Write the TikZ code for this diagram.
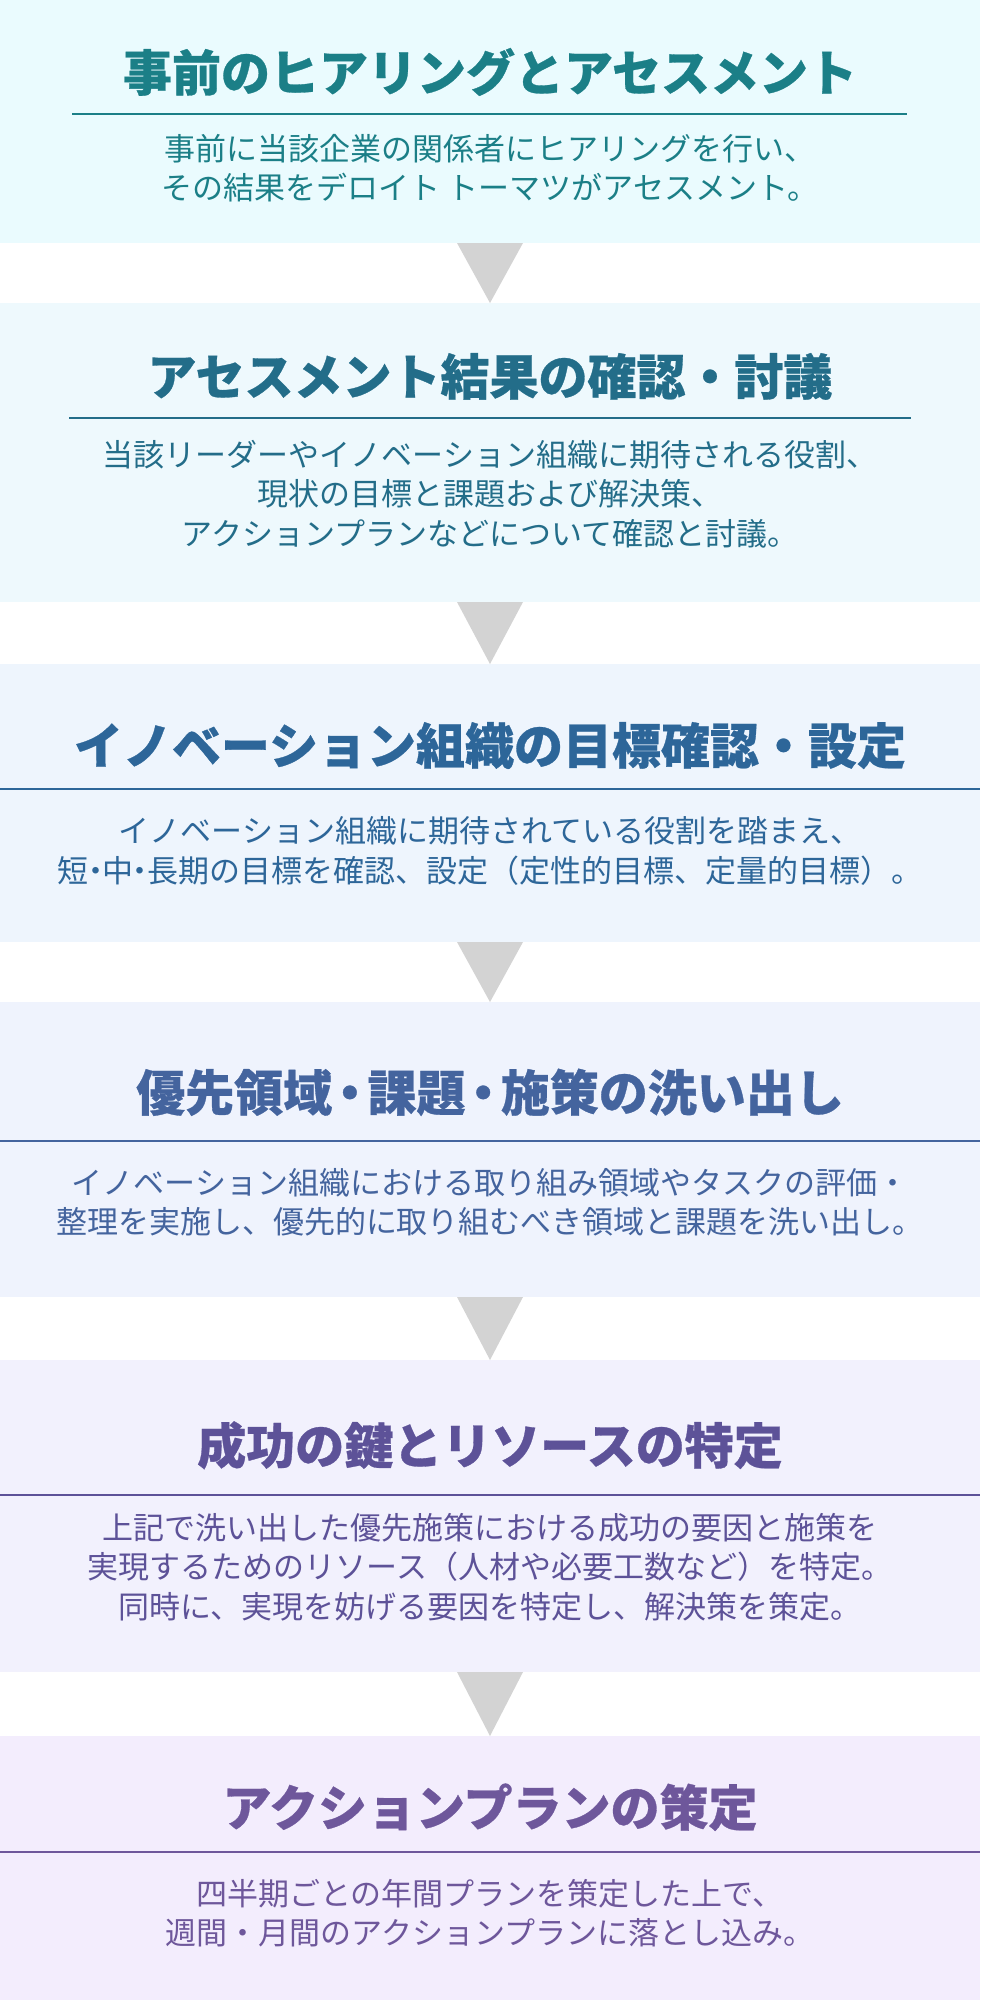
\documentclass[tikz,border=0pt]{standalone}
\usepackage{fontspec}
\newfontfamily\jp[BoldFeatures={FakeBold=0.6}]{Noto Sans CJK JP}
\definecolor{bgA}{HTML}{EAFBFE}\definecolor{cA}{HTML}{1B7F87}
\definecolor{bgB}{HTML}{EEF9FD}\definecolor{cB}{HTML}{236D89}
\definecolor{bgC}{HTML}{EEF5FD}\definecolor{cC}{HTML}{2D6699}
\definecolor{bgD}{HTML}{EFF3FD}\definecolor{cD}{HTML}{44649E}
\definecolor{bgE}{HTML}{F2F1FD}\definecolor{cE}{HTML}{5D5298}
\definecolor{bgF}{HTML}{F3EDFD}\definecolor{cF}{HTML}{6E579B}
\definecolor{arrowgray}{HTML}{D3D3D3}
\newcommand\tdot{\kern-.28em・\kern-.28em}
\newcommand\ttdot{\kern-.14em・\kern-.14em}
\begin{document}
\begin{tikzpicture}[x=1pt,y=-1pt,
  panel/.style={rectangle, inner sep=0pt, outer sep=0pt, minimum width=980pt},
  ttl/.style={font=\jp\bfseries\fontsize{49}{56}\selectfont, inner sep=0pt, anchor=base},
  body/.style={font=\jp\fontsize{31}{39.5}\selectfont, align=center, inner sep=0pt},
  rulel/.style={line width=1.6pt},
  tri/.style={fill=arrowgray}]
\useasboundingbox (0,0) rectangle (980,2000);
% panels
\node[panel, fill=bgA, minimum height=243pt] (p1) at (490,121.5) {};
\node[panel, fill=bgB, minimum height=299pt] (p2) at (490,452.5) {};
\node[panel, fill=bgC, minimum height=278pt] (p3) at (490,803) {};
\node[panel, fill=bgD, minimum height=295pt] (p4) at (490,1149.5) {};
\node[panel, fill=bgE, minimum height=312pt] (p5) at (490,1516) {};
\node[panel, fill=bgF, minimum height=264pt] (p6) at (490,1868) {};
% arrows
\fill[tri] ([xshift=-33pt]p1.south) -- ([xshift=33pt]p1.south) -- (p2.north) -- cycle;
\fill[tri] ([xshift=-33pt]p2.south) -- ([xshift=33pt]p2.south) -- (p3.north) -- cycle;
\fill[tri] ([xshift=-33pt]p3.south) -- ([xshift=33pt]p3.south) -- (p4.north) -- cycle;
\fill[tri] ([xshift=-33pt]p4.south) -- ([xshift=33pt]p4.south) -- (p5.north) -- cycle;
\fill[tri] ([xshift=-33pt]p5.south) -- ([xshift=33pt]p5.south) -- (p6.north) -- cycle;
% panel 1
\node[ttl, text=cA] (t1) at (490,91) {事前のヒアリングとアセスメント};
\draw[rulel, draw=cA] (72,114) -- (907,114);
\node[body, text=cA] (b1) at (490,168) {事前に当該企業の関係者にヒアリングを行い、\\その結果をデロイト トーマツがアセスメント。};
% panel 2
\node[ttl, text=cB] (t2) at (490,395) {アセスメント結果の確認・討議};
\draw[rulel, draw=cB] (69,418) -- (911,418);
\node[body, text=cB] (b2) at (490,494) {当該リーダーやイノベーション組織に期待される役割、\\現状の目標と課題および解決策、\\アクションプランなどについて確認と討議。};
% panel 3
\node[ttl, text=cC] (t3) at (490,764) {イノベーション組織の目標確認・設定};
\draw[rulel, draw=cC] (p3.west |- 0,789) -- (p3.east |- 0,789);
\node[body, text=cC] (b3) at (490,851) {イノベーション組織に期待されている役割を踏まえ、\\短\tdot 中\tdot 長期の目標を確認、設定（定性的目標、定量的目標）。};
% panel 4
\node[ttl, text=cD] (t4) at (490,1111) {優先領域\ttdot 課題\ttdot 施策の洗い出し};
\draw[rulel, draw=cD] (p4.west |- 0,1141) -- (p4.east |- 0,1141);
\node[body, text=cD] (b4) at (490,1202.5) {イノベーション組織における取り組み領域やタスクの評価・\\整理を実施し、優先的に取り組むべき領域と課題を洗い出し。};
% panel 5
\node[ttl, text=cE] (t5) at (490,1464) {成功の鍵とリソースの特定};
\draw[rulel, draw=cE] (p5.west |- 0,1495) -- (p5.east |- 0,1495);
\node[body, text=cE] (b5) at (490,1567) {上記で洗い出した優先施策における成功の要因と施策を\\実現するためのリソース（人材や必要工数など）を特定。\\同時に、実現を妨げる要因を特定し、解決策を策定。};
% panel 6
\node[ttl, text=cF] (t6) at (490,1826) {アクションプランの策定};
\draw[rulel, draw=cF] (p6.west |- 0,1852) -- (p6.east |- 0,1852);
\node[body, text=cF] (b6) at (490,1913) {四半期ごとの年間プランを策定した上で、\\週間・月間のアクションプランに落とし込み。};
\end{tikzpicture}
\end{document}
